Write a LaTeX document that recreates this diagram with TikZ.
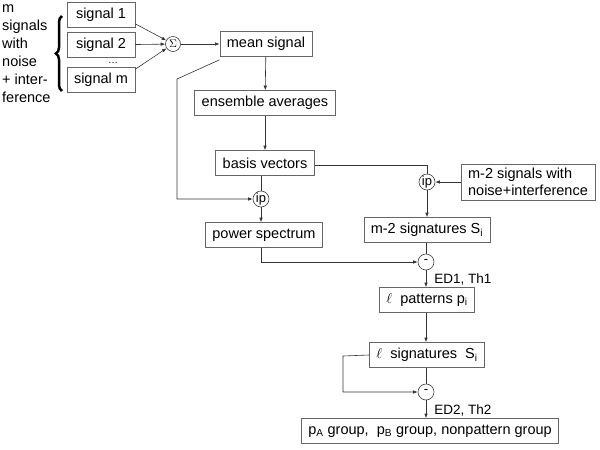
\documentclass[tikz,border=0pt]{standalone}
\usepackage{fontspec}
\setmainfont{Liberation Sans}
\usetikzlibrary{arrows.meta,decorations.pathreplacing}
\newcommand{\sub}[1]{\textsubscript{#1}}

\begin{document}
\begin{tikzpicture}[x=1pt,y=-1pt,
   box/.style={draw=black!60,line width=0.6pt,inner xsep=7pt,minimum height=25pt,
               font=\fontsize{14.5}{17.5}\selectfont},
   op/.style={draw=black!75,line width=0.6pt,circle,inner sep=0pt,minimum size=16pt,
              font=\fontsize{13}{15}\selectfont},
   lbl/.style={font=\fontsize{13.5}{16}\selectfont,inner sep=1pt},
   line/.style={draw=black!80,line width=0.6pt},
   arr/.style={line,-{Latex[length=4.5pt,width=3.5pt]}}]
   \useasboundingbox (0,0) rectangle (600,450);
   % input signals
   \node[box,minimum width=68pt] (sig1) at (101,15) {signal 1};
   \node[box,minimum width=68pt] (sig2) at (101,45) {signal 2};
   \node[box,minimum width=68pt] (sigm) at (101,80) {signal m};
   \node[inner sep=0pt,font=\fontsize{10}{12}\selectfont] (dots) at (113,63) {\dots};
   \node[anchor=north west,align=left,inner sep=0pt,font=\fontsize{14.5}{18}\selectfont]
      (src) at (2,4) {m\\signals\\with\\noise\\+ inter-\\ference};
   \draw[decorate,decoration={brace,amplitude=6pt},line width=2.5pt] (62,91) -- (62,16);
   \node[op,minimum size=15pt,font=\fontsize{11}{13}\selectfont] (sum) at (173,44) {$\Sigma$};
   % main chain
   \node[box] (mean)  at (266,44)  {mean signal};
   \node[box] (ens)   at (265,103) {ensemble averages};
   \node[box] (basis) at (265,163) {basis vectors};
   \node[op]  (ip1)   at (261,199) {ip};
   \node[box] (power) at (264,235) {power spectrum};
   \node[op]  (ip2)   at (427,182) {ip};
   \node[box,align=left,inner ysep=4pt] (other) at (528,182) {m-2 signals with\\noise+interference};
   \node[box] (sigs)  at (427,230) {m-2 signatures S\sub{i}};
   \node[op]  (diff1) at (426,262) {-};
   \node[lbl] (ed1)   at (463,279) {ED1, Th1};
   \node[box] (pat)   at (427,300) {$\ell$\ \ patterns p\sub{i}};
   \node[box] (lsig)  at (427,355) {$\ell$\ \ signatures\ \ S\sub{i}};
   \node[op]  (diff2) at (426,392) {-};
   \node[lbl] (ed2)   at (463,410) {ED2, Th2};
   \node[box] (groups) at (430,431) {p\sub{A} group,\ \ p\sub{B} group, nonpattern group};
   \coordinate (bend) at (177,79);
   \coordinate (loop) at (343,356);
   % connectors
   \draw[arr] ([yshift=4pt]sig1.south east) -- (sum);
   \draw[arr] (sig2) -- (sum);
   \draw[arr] ([yshift=-2pt]sigm.north east) -- (sum);
   \draw[arr] (sum) -- (mean);
   \draw[arr] (mean) -- (ens);
   \draw[arr] ([yshift=-3pt]mean.south west) -- (bend) |- (ip1);
   \draw[arr] (ens) -- (basis);
   \draw[line] (basis.south -| ip1) -- (ip1);
   \draw[arr] (ip1) -- (power.north -| ip1);
   \draw[line] ([yshift=-2pt]basis.east) -| (ip2);
   \draw[arr] (other) -- (ip2);
   \draw[arr] (ip2) -- (sigs);
   \draw[line] (sigs.south -| diff1) -- (diff1);
   \draw[arr] (power.south -| ip1) |- (diff1);
   \draw[arr] (diff1) -- (pat.north -| diff1);
   \draw[arr] (pat.south -| diff1) -- (lsig.north -| diff1);
   \draw[line] (lsig.south -| diff2) -- (diff2);
   \draw[arr] (lsig.west) -- (loop) |- (diff2);
   \draw[arr] (diff2) -- (groups.north -| diff2);
\end{tikzpicture}
\end{document}
